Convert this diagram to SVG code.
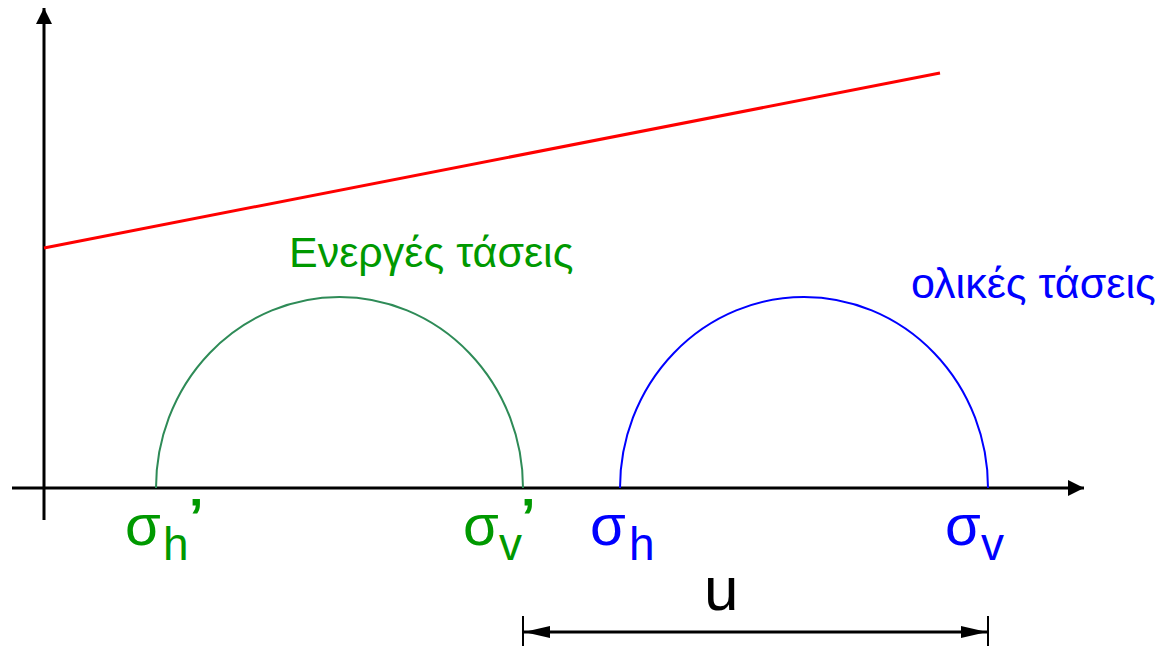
<svg xmlns="http://www.w3.org/2000/svg" width="1160" height="648" viewBox="0 0 1160 648">
<style>
text{font-family:"Liberation Sans",Arial,sans-serif}
.ax{stroke:#000;stroke-width:3;fill:none}
.g{fill:#009900}
.b{fill:#0000ff}
.big{font-size:58px}
.sub{font-size:46px}
.pr{font-size:52px;font-weight:bold}
</style>
<defs>
<marker id="ah" viewBox="0 0 16 16" refX="16" refY="8" markerWidth="16" markerHeight="16" markerUnits="userSpaceOnUse" orient="auto">
<path d="M0,0 L16,8 L0,16 z" fill="#000"/>
</marker>
<marker id="dh" viewBox="0 0 26 12" refX="26" refY="6" markerWidth="26" markerHeight="12" markerUnits="userSpaceOnUse" orient="auto-start-reverse">
<path d="M0,0 L26,6 L0,12 z" fill="#000"/>
</marker>
</defs>
<g id="axes">
<line class="ax" x1="44" y1="520" x2="44" y2="8" marker-end="url(#ah)"/>
<line class="ax" x1="12" y1="488" x2="1084" y2="488" marker-end="url(#ah)"/>
</g>
<g id="failure-line">
<line x1="44" y1="248" x2="940" y2="73" stroke="#ff0000" stroke-width="3"/>
</g>
<g id="effective-circle">
<path d="M156,488 A183.5,191 0 0 1 523,488" fill="none" stroke="#2e8b57" stroke-width="2"/>
<text x="289" y="267" font-size="43" class="g">Ενεργές τάσεις</text>
</g>
<g id="total-circle">
<path d="M620,488 A184,191 0 0 1 988,488" fill="none" stroke="#0000ff" stroke-width="2"/>
<text x="911" y="298" font-size="43" class="b">ολικές τάσεις</text>
</g>
<g id="labels">
<text x="125" y="545" class="g big">σ</text>
<text x="163" y="560" class="g sub">h</text>
<text x="189" y="535" class="g pr">’</text>
<text x="463" y="545" class="g big">σ</text>
<text x="499" y="560" class="g sub">v</text>
<text x="521" y="535" class="g pr">’</text>
<text x="590" y="545" class="b big">σ</text>
<text x="629" y="560" class="b sub">h</text>
<text x="945" y="545" class="b big">σ</text>
<text x="981" y="560" class="b sub">v</text>
</g>
<g id="connectors">
<line x1="523" y1="616" x2="523" y2="646" stroke="#000" stroke-width="2"/>
<line x1="988" y1="616" x2="988" y2="646" stroke="#000" stroke-width="2"/>
<line x1="524" y1="632" x2="987" y2="632" stroke="#000" stroke-width="3" marker-start="url(#dh)" marker-end="url(#dh)"/>
<text x="704" y="610" font-size="62" fill="#000">u</text>
</g>
</svg>
